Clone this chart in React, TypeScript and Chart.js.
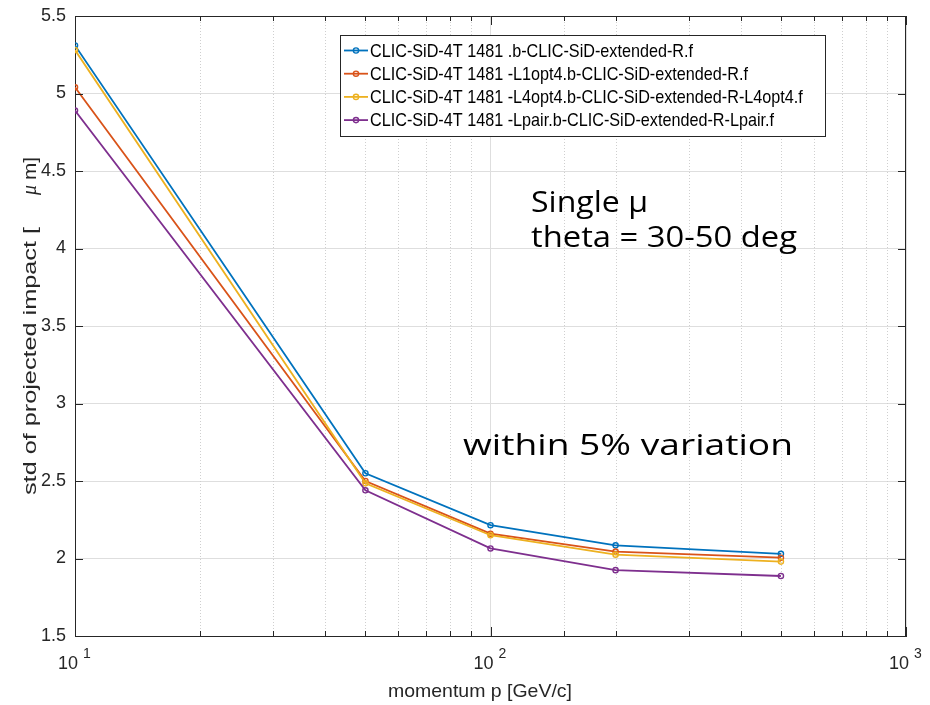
import React, { useEffect, useRef } from 'react';
import { Chart, registerables } from 'chart.js';

Chart.register(...registerables);

// ---- data ----
const momentum = [10, 50, 100, 200, 500];
const stdBase = [5.31, 2.55, 2.215, 2.085, 2.03];
const stdL1opt4 = [5.04, 2.5, 2.16, 2.045, 2.005];
const stdL4opt4 = [5.28, 2.485, 2.15, 2.025, 1.98];
const stdLpair = [4.89, 2.44, 2.065, 1.925, 1.887];

const seriesLabels = [
  'CLIC-SiD-4T 1481 .b-CLIC-SiD-extended-R.f',
  'CLIC-SiD-4T 1481 -L1opt4.b-CLIC-SiD-extended-R.f',
  'CLIC-SiD-4T 1481 -L4opt4.b-CLIC-SiD-extended-R-L4opt4.f',
  'CLIC-SiD-4T 1481 -Lpair.b-CLIC-SiD-extended-R-Lpair.f',
];
const seriesColors = ['#0072BD', '#D95319', '#EDB120', '#7E2F8E'];

const xTitle = 'momentum p [GeV/c]';
const yTitleMain = 'std of projected impact [';
const yTitleMu = 'μ';
const yTitleEnd = 'm]';
const noteLine1 = 'Single μ';
const noteLine2 = 'theta = 30-50 deg';
const noteLine3 = 'within 5% variation';

const AXIS = '#262626';
const SANS = '"Liberation Sans", Arial, Helvetica, sans-serif';
const NOTE = '"Open Sans", "Noto Sans", sans-serif';

const isDecade = (v: number) => Math.abs(Math.log10(v) - Math.round(Math.log10(v))) < 1e-9;

function fitText(ctx: CanvasRenderingContext2D, text: string, x: number, y: number, font: string, width: number, align: 'left' | 'center' = 'left') {
  ctx.save();
  ctx.font = font;
  ctx.textAlign = 'left';
  ctx.textBaseline = 'alphabetic';
  const m = ctx.measureText(text).width;
  const sx = width / m;
  const x0 = align === 'center' ? x - width / 2 : x;
  ctx.translate(x0, y);
  ctx.scale(sx, 1);
  ctx.fillText(text, 0, 0);
  ctx.restore();
}

export default function App() {
  const ref = useRef<HTMLCanvasElement>(null);

  useEffect(() => {
    const canvas = ref.current;
    if (!canvas) return;
    const series = [stdBase, stdL1opt4, stdL4opt4, stdLpair];

    const decor = {
      id: 'matlabDecor',
      beforeDatasetsDraw(chart: any) {
        const { ctx, chartArea, scales } = chart;
        const x = scales.x;
        ctx.save();
        ctx.strokeStyle = '#cfcfcf';
        ctx.lineWidth = 1;
        ctx.setLineDash([1, 2]);
        x.ticks.forEach((t: any) => {
          if (isDecade(t.value)) return;
          const px = Math.round(x.getPixelForValue(t.value)) + 0.5;
          ctx.beginPath();
          ctx.moveTo(px, chartArea.top);
          ctx.lineTo(px, chartArea.bottom);
          ctx.stroke();
        });
        ctx.restore();
      },
      afterDraw(chart: any) {
        const { ctx, chartArea, scales } = chart;
        const { left, right, top, bottom } = chartArea;
        const x = scales.x;
        const y = scales.y;
        ctx.save();
        // box
        ctx.strokeStyle = AXIS;
        ctx.lineWidth = 1;
        ctx.beginPath();
        ctx.moveTo(left, top + 0.5);
        ctx.lineTo(right, top + 0.5);
        ctx.moveTo(right - 0.5, top);
        ctx.lineTo(right - 0.5, bottom);
        ctx.stroke();
        // inward ticks
        ctx.beginPath();
        x.ticks.forEach((t: any) => {
          const px = Math.round(x.getPixelForValue(t.value)) + 0.5;
          const len = isDecade(t.value) ? 9 : 5;
          ctx.moveTo(px, bottom);
          ctx.lineTo(px, bottom - len);
          ctx.moveTo(px, top);
          ctx.lineTo(px, top + len);
        });
        y.ticks.forEach((t: any) => {
          const py = Math.round(y.getPixelForValue(t.value)) + 0.5;
          ctx.moveTo(left, py);
          ctx.lineTo(left + 8, py);
          ctx.moveTo(right, py);
          ctx.lineTo(right - 8, py);
        });
        ctx.stroke();

        // x tick labels 10^n
        ctx.fillStyle = AXIS;
        x.ticks.forEach((t: any) => {
          if (!isDecade(t.value)) return;
          const px = x.getPixelForValue(t.value);
          ctx.font = `18px ${SANS}`;
          ctx.textAlign = 'right';
          ctx.textBaseline = 'alphabetic';
          ctx.fillText('10', px + 3, 669);
          ctx.font = `14px ${SANS}`;
          ctx.textAlign = 'left';
          ctx.fillText(String(Math.round(Math.log10(t.value))), px + 8, 658);
        });

        // x title
        ctx.fillStyle = AXIS;
        fitText(ctx, xTitle, 480, 697, `19px ${SANS}`, 184, 'center');

        // y title (rotated)
        ctx.save();
        ctx.translate(36, 495);
        ctx.rotate(-Math.PI / 2);
        fitText(ctx, yTitleMain, 0, 0, `19px ${SANS}`, 268);
        ctx.font = `italic 20px "Liberation Serif", "DejaVu Serif", serif`;
        ctx.textAlign = 'left';
        ctx.fillText(yTitleMu, 300, 0);
        fitText(ctx, yTitleEnd, 315, 0, `19px ${SANS}`, 23);
        ctx.restore();

        // legend
        const lx0 = 340, ly0 = 35, lx1 = 826, ly1 = 137;
        ctx.fillStyle = '#ffffff';
        ctx.fillRect(lx0, ly0, lx1 - lx0, ly1 - ly0);
        ctx.strokeStyle = AXIS;
        ctx.lineWidth = 1;
        ctx.strokeRect(lx0 + 0.5, ly0 + 0.5, lx1 - lx0 - 1, ly1 - ly0 - 1);
        ctx.font = `19px ${SANS}`;
        const sx = 323 / ctx.measureText(seriesLabels[0]).width;
        seriesLabels.forEach((lab, i) => {
          const cy = 50.5 + i * 23.2;
          ctx.strokeStyle = seriesColors[i];
          ctx.lineWidth = 1.8;
          ctx.beginPath();
          ctx.moveTo(344, cy);
          ctx.lineTo(368, cy);
          ctx.stroke();
          ctx.lineWidth = 1.4;
          ctx.beginPath();
          ctx.arc(356, cy, 2.6, 0, Math.PI * 2);
          ctx.stroke();
          ctx.save();
          ctx.fillStyle = '#000000';
          ctx.font = `19px ${SANS}`;
          ctx.textAlign = 'left';
          ctx.textBaseline = 'middle';
          ctx.translate(370, cy + 1);
          ctx.scale(sx, 1);
          ctx.fillText(lab, 0, 0);
          ctx.restore();
        });

        // annotations
        ctx.fillStyle = '#000000';
        fitText(ctx, noteLine1, 531, 212, `29px ${NOTE}`, 117);
        fitText(ctx, noteLine2, 531, 247, `29px ${NOTE}`, 266);
        fitText(ctx, noteLine3, 463, 455, `30px ${NOTE}`, 330);
        ctx.restore();
      },
    };

    const chart = new Chart(canvas, {
      type: 'line',
      data: {
        datasets: series.map((vals, i) => ({
          label: seriesLabels[i],
          data: momentum.map((m, j) => ({ x: m, y: vals[j] })),
          borderColor: seriesColors[i],
          backgroundColor: 'rgba(0,0,0,0)',
          borderWidth: 1.8,
          pointRadius: 2.6,
          pointBorderWidth: 1.4,
          pointBorderColor: seriesColors[i],
          pointBackgroundColor: 'rgba(0,0,0,0)',
          tension: 0,
          fill: false,
          order: series.length - i,
        })),
      },
      options: {
        responsive: false,
        animation: false,
        devicePixelRatio: 1,
        layout: { padding: { top: 16, right: 24, left: 0, bottom: 0 } },
        plugins: { legend: { display: false }, tooltip: { enabled: false } },
        scales: {
          x: {
            type: 'logarithmic',
            min: 10,
            max: 1000,
            position: 'bottom',
            ticks: { display: false },
            grid: {
              drawTicks: false,
              color: (c: any) => (c.tick && isDecade(c.tick.value) ? '#dedede' : 'rgba(0,0,0,0)'),
            },
            border: { color: AXIS, width: 1 },
            afterFit: (s: any) => {
              s.height = 69;
              s.paddingLeft = 0;
              s.paddingRight = 0;
            },
          },
          y: {
            type: 'linear',
            min: 1.5,
            max: 5.5,
            ticks: {
              stepSize: 0.5,
              padding: 9,
              color: AXIS,
              font: { family: SANS, size: 18 },
              callback: (v: any) => String(v),
            },
            grid: { drawTicks: false, color: '#dedede' },
            border: { color: AXIS, width: 1 },
            afterFit: (s: any) => {
              s.width = 75;
              s.paddingTop = 0;
              s.paddingBottom = 0;
            },
          },
        },
      },
      plugins: [decor],
    } as any);

    return () => chart.destroy();
  }, []);

  return (
    <div style={{ position: 'absolute', left: 0, top: 0, width: 930, height: 705, background: '#fff' }}>
      <canvas ref={ref} width={930} height={705} style={{ display: 'block', width: 930, height: 705 }} />
    </div>
  );
}
